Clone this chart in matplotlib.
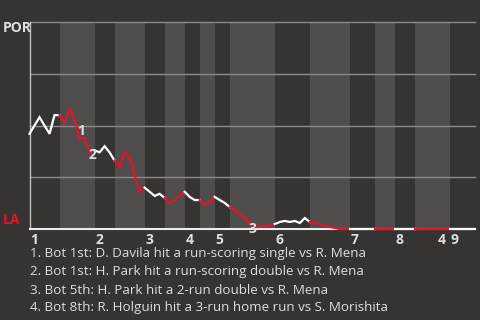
import matplotlib
matplotlib.use("Agg")
import matplotlib.pyplot as plt

# POR win probability (%) after each event (index = event number)
por_wp = [46, 50, 54, 50, 46, 55, 55,            # top 1 (0-6)
          51, 58, 53, 44, 44, 37, 38,            # bot 1 (7-13)
          37, 40, 37, 33,                        # top 2 (14-17)
          30, 37, 35, 26, 18, 20,                # bot 2 (18-23)
          18, 16, 17, 15,                        # top 3 (24-27)
          12.6, 14, 16, 18,                      # bot 3 (28-31)
          15.5, 14, 14,                          # top 4 (32-34)
          11.6, 13, 15.5,                        # bot 4 (35-37)
          14, 12.6, 10.6,                        # top 5 (38-40)
          9.2, 7.2, 5.3, 2.9, 1.0, 1.4, 1.4, 1.9, 2.4,   # bot 5 (41-49)
          3.4, 3.9, 3.4, 3.9, 2.9, 5.3, 3.4,     # top 6 (50-56)
          2.9, 2.4, 1.4, 1.0, 0.5, 0, 0, 0,      # bot 6 (57-64)
          0, 0, 0, 0, 0,                         # top 7 (65-69)
          0, 0, 0, 0,                            # bot 7 (70-73)
          0, 0, 0, 0,                            # top 8 (74-77)
          0, 0, 0, 0, 0, 0, 0,                   # bot 8 (78-84)
          0, 0, 0, 0, 0]                         # top 9 (85-89)

# half-inning boundaries (event index)
half_bounds = [0, 6, 13, 17, 23, 27, 31, 34, 37, 40, 49, 56, 64, 69, 73, 77, 84, 89]
inning_labels = ["1", "2", "3", "4", "5", "6", "7", "8", "9"]

# key events
event_nums = ["1", "2", "3", "4"]
event_idx = [10.3, 12.5, 44.5, 82.3]
event_wp = [47.3, 35.7, 0, 0]
event_dy = [0, 0, 0, -8]
event_texts = [
    "1. Bot 1st: D. Davila hit a run-scoring single vs R. Mena",
    "2. Bot 1st: H. Park hit a run-scoring double vs R. Mena",
    "3. Bot 5th: H. Park hit a 2-run double vs R. Mena",
    "4. Bot 8th: R. Holguin hit a 3-run home run vs S. Morishita",
]
teams = ["POR", "LA"]

BG = "#363431"
BAND = "#4f4e4c"
RED = "#e8102c"
WHITE = "#ffffff"
TXT = "#dedede"
plt.rcParams["font.family"] = ["Open Sans", "DejaVu Sans"]

fig = plt.figure(figsize=(4.8, 3.2), dpi=100, facecolor=BG)
ax = fig.add_axes([29.5 / 480, 91 / 320, 445.5 / 480, 207 / 320])
ax.set_facecolor(BG)
ax.set_xlim(half_bounds[0], half_bounds[-1])
ax.set_ylim(0, 100)

# bands: bottom half-innings shaded
for k in range(len(half_bounds) - 1):
    if k % 2 == 1:
        ax.axvspan(half_bounds[k], half_bounds[k + 1], color=BAND, lw=0, zorder=0)

# gridlines
for g in [25, 50, 75, 100]:
    ax.axhline(g, color="#8c8b89", lw=1.0, zorder=1, clip_on=False)

for s in ["top", "right"]:
    ax.spines[s].set_visible(False)
ax.spines["left"].set_color("#bdbcba")
ax.spines["left"].set_linewidth(1.0)
ax.spines["bottom"].set_color("#ececec")
ax.spines["bottom"].set_linewidth(1.5)
ax.spines["left"].set_zorder(2)
ax.spines["bottom"].set_zorder(2)
ax.set_xticks([])
ax.set_yticks([])

# line colored by batting team
for k in range(len(half_bounds) - 1):
    a, b = half_bounds[k], half_bounds[k + 1]
    xs = list(range(a, b + 1))
    ys = por_wp[a:b + 1]
    ax.plot(xs, ys, color=WHITE if k % 2 == 0 else RED, lw=1.6,
            zorder=3, clip_on=False, solid_joinstyle="miter")

# inning tick labels
for i, lab in enumerate(inning_labels):
    ax.annotate(lab, (half_bounds[2 * i], 0), xytext=(0.5, -3),
                textcoords="offset points", ha="left", va="top",
                color=TXT, fontsize=10, fontweight="bold", annotation_clip=False)

# event labels
for n, xi, yi, dy in zip(event_nums, event_idx, event_wp, event_dy):
    ax.annotate(n, (xi, yi), xytext=(0, dy), textcoords="offset points",
                ha="center", va="center", color=TXT, fontsize=10,
                fontweight="bold", annotation_clip=False, zorder=5)

# team labels
fig.text(3 / 480, 1 - 28 / 320, teams[0], color=TXT, fontsize=10,
         fontweight="bold", ha="left", va="center")
fig.text(3 / 480, 1 - 220 / 320, teams[1], color=RED, fontsize=10,
         fontweight="bold", ha="left", va="center")

# event descriptions
for j, t in enumerate(event_texts):
    fig.text(30 / 480, 1 - (254 + 18 * j) / 320, t, color=TXT, fontsize=9.6,
             ha="left", va="center")

fig.savefig("out.png", dpi=100, facecolor=BG)
